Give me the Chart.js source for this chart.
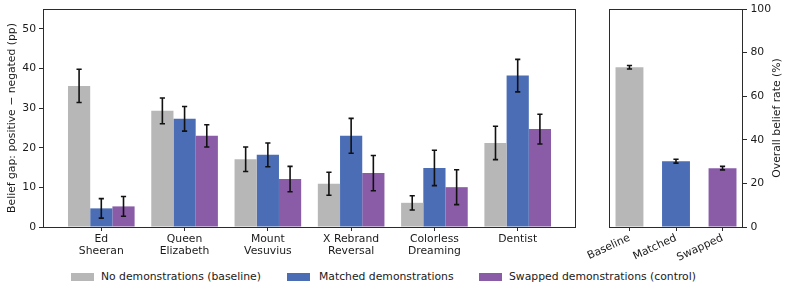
<!DOCTYPE html>
<html><head><meta charset="utf-8">
<script src="https://cdn.jsdelivr.net/npm/chart.js@4"></script>
<style>
html,body{margin:0;padding:0;background:#fff;}
#wrap{position:relative;width:789px;height:290px;overflow:hidden;font-family:"DejaVu Sans";color:#1a1a1a;font-size:10.8px;}
#c1{position:absolute;left:0;top:0;}
#c2{position:absolute;left:560px;top:0;}
.lbox{position:absolute;top:273px;width:23px;height:8px;}
.ltxt{position:absolute;top:270px;height:14px;line-height:14px;white-space:nowrap;}
#rtitle{position:absolute;left:677px;top:111px;width:200px;height:14px;line-height:14px;text-align:center;transform:rotate(-90deg);transform-origin:100px 7px;white-space:nowrap;}
</style></head>
<body>
<div id="wrap">
<canvas id="c1" width="590" height="270"></canvas>
<canvas id="c2" width="229" height="270"></canvas>
<div id="rtitle">Overall belief rate (%)</div>
<div class="lbox" style="left:71px;background:#b7b7b7"></div><div class="ltxt" style="left:101px">No demonstrations (baseline)</div>
<div class="lbox" style="left:287px;background:#4a6db5"></div><div class="ltxt" style="left:319px">Matched demonstrations</div>
<div class="lbox" style="left:479px;background:#8a5ca8"></div><div class="ltxt" style="left:509px">Swapped demonstrations (control)</div>
</div>
<script>
const categories = [["Ed","Sheeran"],["Queen","Elizabeth"],["Mount","Vesuvius"],["X Rebrand","Reversal"],["Colorless","Dreaming"],["Dentist"]];
const seriesNames = ["No demonstrations (baseline)","Matched demonstrations","Swapped demonstrations (control)"];
const baseline = [35.6, 29.3, 17.1, 10.9, 6.1, 21.2];
const baselineErr = [4.2, 3.25, 3.1, 2.9, 1.8, 4.2];
const matched = [4.7, 27.3, 18.2, 23.0, 14.9, 38.2];
const matchedErr = [2.45, 3.1, 3.0, 4.4, 4.45, 4.1];
const swapped = [5.2, 23.0, 12.1, 13.6, 10.05, 24.7];
const swappedErr = [2.5, 2.8, 3.2, 4.45, 4.4, 3.75];
const overallLabels = ["Baseline","Matched","Swapped"];
const overallValues = [73.3, 30.2, 27.0];
const overallErr = [0.8, 0.9, 0.8];
const leftTicks = [0, 10, 20, 30, 40, 50];
const rightTicks = [0, 20, 40, 60, 80, 100];

const colors = ["#b7b7b7", "#4a6db5", "#8a5ca8"];
const FONT = {family: "DejaVu Sans", size: 10.8, lineHeight: 1.12};
const TXT = "#1a1a1a";
const AX = "#2b2b2b";
Chart.defaults.font.family = "DejaVu Sans";
Chart.defaults.color = TXT;

const errPlugin = {
  id: 'errbars',
  afterDatasetsDraw(chart) {
    const ctx = chart.ctx;
    const ys = chart.scales.y;
    ctx.save();
    ctx.strokeStyle = "#111";
    ctx.lineWidth = 1.6;
    chart.data.datasets.forEach((ds, di) => {
      const meta = chart.getDatasetMeta(di);
      meta.data.forEach((bar, i) => {
        const v = ds.data[i].y, e = ds.errors[i];
        const x = bar.x;
        const y1 = ys.getPixelForValue(v + e), y2 = ys.getPixelForValue(v - e);
        ctx.beginPath();
        ctx.moveTo(x, y1); ctx.lineTo(x, y2);
        ctx.moveTo(x - 2.6, y1); ctx.lineTo(x + 2.6, y1);
        ctx.moveTo(x - 2.6, y2); ctx.lineTo(x + 2.6, y2);
        ctx.stroke();
      });
    });
    ctx.restore();
  }
};
const framePlugin = {
  id: 'frame',
  afterDraw(chart) {
    const a = chart.chartArea, ctx = chart.ctx;
    ctx.save();
    ctx.strokeStyle = AX; ctx.lineWidth = 1;
    ctx.strokeRect(Math.round(a.left) + 0.5, Math.round(a.top) + 0.5, Math.round(a.right - a.left) - 1, Math.round(a.bottom - a.top));
    ctx.restore();
  }
};
function zeroPad(s) { s.paddingLeft = 0; s.paddingRight = 0; s.paddingTop = 0; s.paddingBottom = 0; }
const gridOpts = {display: true, offset: false, drawOnChartArea: false, drawTicks: true, tickLength: 4, color: AX, tickColor: AX, tickWidth: 1};

const series = [[baseline, baselineErr], [matched, matchedErr], [swapped, swappedErr]];
new Chart(document.getElementById('c1'), {
  type: 'bar',
  data: {
    datasets: series.map((s, k) => ({
      label: seriesNames[k],
      data: s[0].map((v, i) => ({x: i, y: v})),
      errors: s[1],
      backgroundColor: colors[k],
      borderWidth: 0,
      categoryPercentage: 0.8,
      barPercentage: 1.0
    }))
  },
  options: {
    responsive: false, animation: false,
    layout: {padding: {left: 0, top: 9, right: 14, bottom: 0}},
    plugins: {legend: {display: false}, tooltip: {enabled: false}},
    scales: {
      x: {
        type: 'linear', min: -0.7, max: 5.7, offset: false,
        afterBuildTicks: s => { s.ticks = categories.map((c, i) => ({value: i})); },
        afterFit: s => { s.height = 43; zeroPad(s); },
        ticks: {font: FONT, color: TXT, padding: 2, maxRotation: 0, minRotation: 0, autoSkip: false,
          callback: v => categories[v]},
        grid: gridOpts,
        border: {display: false}
      },
      y: {
        min: 0, max: 55,
        afterBuildTicks: s => { s.ticks = leftTicks.map(v => ({value: v})); },
        afterFit: s => { s.width = 43; zeroPad(s); },
        ticks: {font: FONT, color: TXT, padding: 3},
        grid: gridOpts,
        border: {display: false},
        title: {display: true, text: "Belief gap: positive \u2212 negated (pp)", font: FONT, color: TXT, padding: {top: 6, bottom: 0}}
      }
    }
  },
  plugins: [errPlugin, framePlugin]
});

new Chart(document.getElementById('c2'), {
  type: 'bar',
  data: {
    datasets: [{
      label: "Overall",
      data: overallValues.map((v, i) => ({x: i, y: v})),
      errors: overallErr,
      backgroundColor: colors,
      borderWidth: 0,
      categoryPercentage: 1.0,
      barPercentage: 0.6
    }]
  },
  options: {
    responsive: false, animation: false,
    layout: {padding: {left: 49, top: 9, right: 0, bottom: 0}},
    plugins: {legend: {display: false}, tooltip: {enabled: false}},
    scales: {
      x: {
        type: 'linear', min: -0.44, max: 2.44, offset: false,
        afterBuildTicks: s => { s.ticks = overallLabels.map((c, i) => ({value: i})); },
        afterFit: s => { s.height = 43; zeroPad(s); },
        ticks: {font: FONT, color: TXT, padding: 1, maxRotation: 25, minRotation: 25, autoSkip: false,
          callback: v => overallLabels[v]},
        grid: gridOpts,
        border: {display: false}
      },
      y: {
        position: 'right', min: 0, max: 100,
        afterBuildTicks: s => { s.ticks = rightTicks.map(v => ({value: v})); },
        afterFit: s => { s.width = 46; zeroPad(s); },
        ticks: {font: FONT, color: TXT, padding: 3.5},
        grid: gridOpts,
        border: {display: false}
      }
    }
  },
  plugins: [errPlugin, framePlugin]
});
</script>
</body></html>
